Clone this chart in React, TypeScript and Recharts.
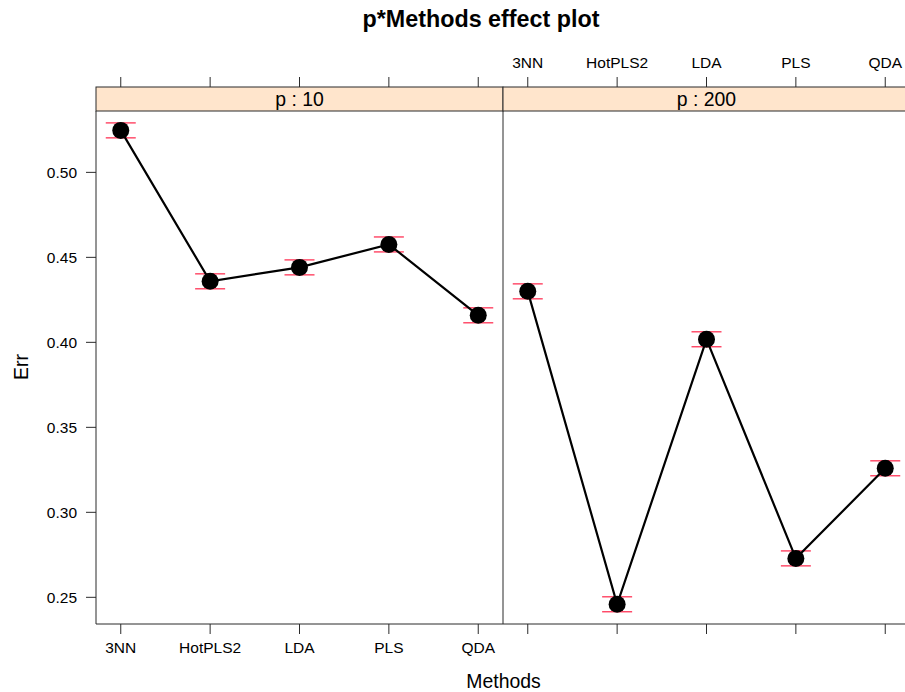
import React from "react"
import { LineChart, Line, XAxis, YAxis, ErrorBar } from "recharts"

// effect estimates of Err by method, one set per p level
const methods = ["3NN", "HotPLS2", "LDA", "PLS", "QDA"]
const panelLabels = ["p : 10", "p : 200"]

const errP10 = [0.5247, 0.4359, 0.4441, 0.4576, 0.4159]
const lowerP10 = [0.5203, 0.4315, 0.4397, 0.4532, 0.4115]
const upperP10 = [0.5291, 0.4403, 0.4485, 0.462, 0.4203]

const errP200 = [0.43, 0.2459, 0.4018, 0.2729, 0.3259]
const lowerP200 = [0.4256, 0.2415, 0.3974, 0.2685, 0.3215]
const upperP200 = [0.4344, 0.2503, 0.4062, 0.2773, 0.3303]

const errTicks = [0.25, 0.3, 0.35, 0.4, 0.45, 0.5]

const FONT = '"Liberation Sans", Arial, Helvetica, sans-serif'
const AXIS = "#2b2b2b"
const CI_COLOR = "#ff3355"
const STRIP_BG = "#ffe5cc"

const W = 905
const H = 692
const PANEL_W = 407
const PLOT_TOP = 111
const PLOT_BOTTOM = 624
const STRIP_H = 24
const X_DOMAIN: [number, number] = [0.723, 5.277]
const Y_DOMAIN: [number, number] = [0.2343, 0.5361]

function buildRows(err: number[], lower: number[], upper: number[]) {
  return methods.map((m, i) => ({
    pos: i + 1,
    method: m,
    err: err[i],
    ci: [err[i] - lower[i], upper[i] - err[i]],
  }))
}

const rowsP10 = buildRows(errP10, lowerP10, upperP10)
const rowsP200 = buildRows(errP200, lowerP200, upperP200)

// tick marks above the strip, optionally labelled
function TopTick(props: any) {
  const { x, y, payload, showLabel } = props
  return (
    <g>
      <line x1={x} x2={x} y1={y - STRIP_H} y2={y - STRIP_H - 10} stroke={AXIS} strokeWidth={1} />
      {showLabel && (
        <text x={x} y={y - STRIP_H - 19} textAnchor="middle" fontSize={15.5} fontFamily={FONT} fill="#000">
          {methods[payload.value - 1]}
        </text>
      )}
    </g>
  )
}

interface PanelProps {
  rows: ReturnType<typeof buildRows>
  left: number
  first: boolean
}

function Panel({ rows, left, first }: PanelProps) {
  const axisW = first ? 96 : 1
  const tickStyle = { fill: "#000", fontSize: 15.5, fontFamily: FONT }
  return (
    <div style={{ position: "absolute", left, top: 0 }}>
      <LineChart width={axisW + PANEL_W} height={H} data={rows} margin={{ top: 0, right: 0, bottom: 0, left: 0 }}>
        <XAxis
          xAxisId="bottom"
          dataKey="pos"
          type="number"
          domain={X_DOMAIN}
          allowDataOverflow
          ticks={[1, 2, 3, 4, 5]}
          interval={0}
          height={H - PLOT_BOTTOM}
          tickSize={10}
          tickMargin={8}
          stroke={AXIS}
          tick={tickStyle}
          tickFormatter={(v: number) => (first ? methods[v - 1] : "")}
        />
        <XAxis
          xAxisId="top"
          orientation="top"
          dataKey="pos"
          type="number"
          domain={X_DOMAIN}
          allowDataOverflow
          ticks={[1, 2, 3, 4, 5]}
          interval={0}
          height={PLOT_TOP}
          tickSize={0}
          tickMargin={0}
          tickLine={false}
          axisLine={false}
          tick={(p: any) => <TopTick {...p} showLabel={!first} />}
        />
        <YAxis
          yAxisId="err"
          type="number"
          domain={Y_DOMAIN}
          allowDataOverflow
          ticks={errTicks}
          interval={0}
          width={axisW}
          tickSize={first ? 10 : 0}
          tickMargin={9}
          tickLine={first}
          stroke={AXIS}
          tick={first ? tickStyle : false}
          tickFormatter={(v: number) => v.toFixed(2)}
        />
        <Line
          xAxisId="bottom"
          yAxisId="err"
          dataKey="err"
          stroke="#000"
          strokeWidth={2.2}
          dot={{ r: 8.5, fill: "#000", stroke: "none" }}
          activeDot={false}
          isAnimationActive={false}
        >
          <ErrorBar dataKey="ci" direction="y" width={15} stroke={CI_COLOR} strokeWidth={1.3} isAnimationActive={false} />
        </Line>
      </LineChart>
    </div>
  )
}

export default function App() {
  const stripY = PLOT_TOP - STRIP_H
  return (
    <div
      style={{
        position: "absolute",
        left: 0,
        top: 0,
        width: W,
        height: H,
        overflow: "hidden",
        background: "#fff",
        fontFamily: FONT,
      }}
    >
      <Panel rows={rowsP10} left={0} first />
      <Panel rows={rowsP200} left={96 + PANEL_W - 1} first={false} />
      <svg width={W} height={H} style={{ position: "absolute", left: 0, top: 0, pointerEvents: "none" }}>
        {panelLabels.map((label, i) => {
          const x0 = 96 + i * PANEL_W
          return (
            <g key={label}>
              <rect x={x0} y={stripY} width={PANEL_W} height={STRIP_H} fill={STRIP_BG} stroke={AXIS} strokeWidth={1} />
              <text
                x={x0 + PANEL_W / 2}
                y={stripY + 19}
                textAnchor="middle"
                fontSize={19.4}
                fontFamily={FONT}
                fill="#000"
              >
                {label}
              </text>
            </g>
          )
        })}
        <text x={481} y={27} textAnchor="middle" fontSize={23.3} fontWeight="bold" fontFamily={FONT} fill="#000">
          p*Methods effect plot
        </text>
        <text x={503.5} y={688} textAnchor="middle" fontSize={19.4} fontFamily={FONT} fill="#000">
          Methods
        </text>
        <text
          x={0}
          y={0}
          transform="translate(28 367) rotate(-90)"
          textAnchor="middle"
          fontSize={19.4}
          fontFamily={FONT}
          fill="#000"
        >
          Err
        </text>
      </svg>
    </div>
  )
}
